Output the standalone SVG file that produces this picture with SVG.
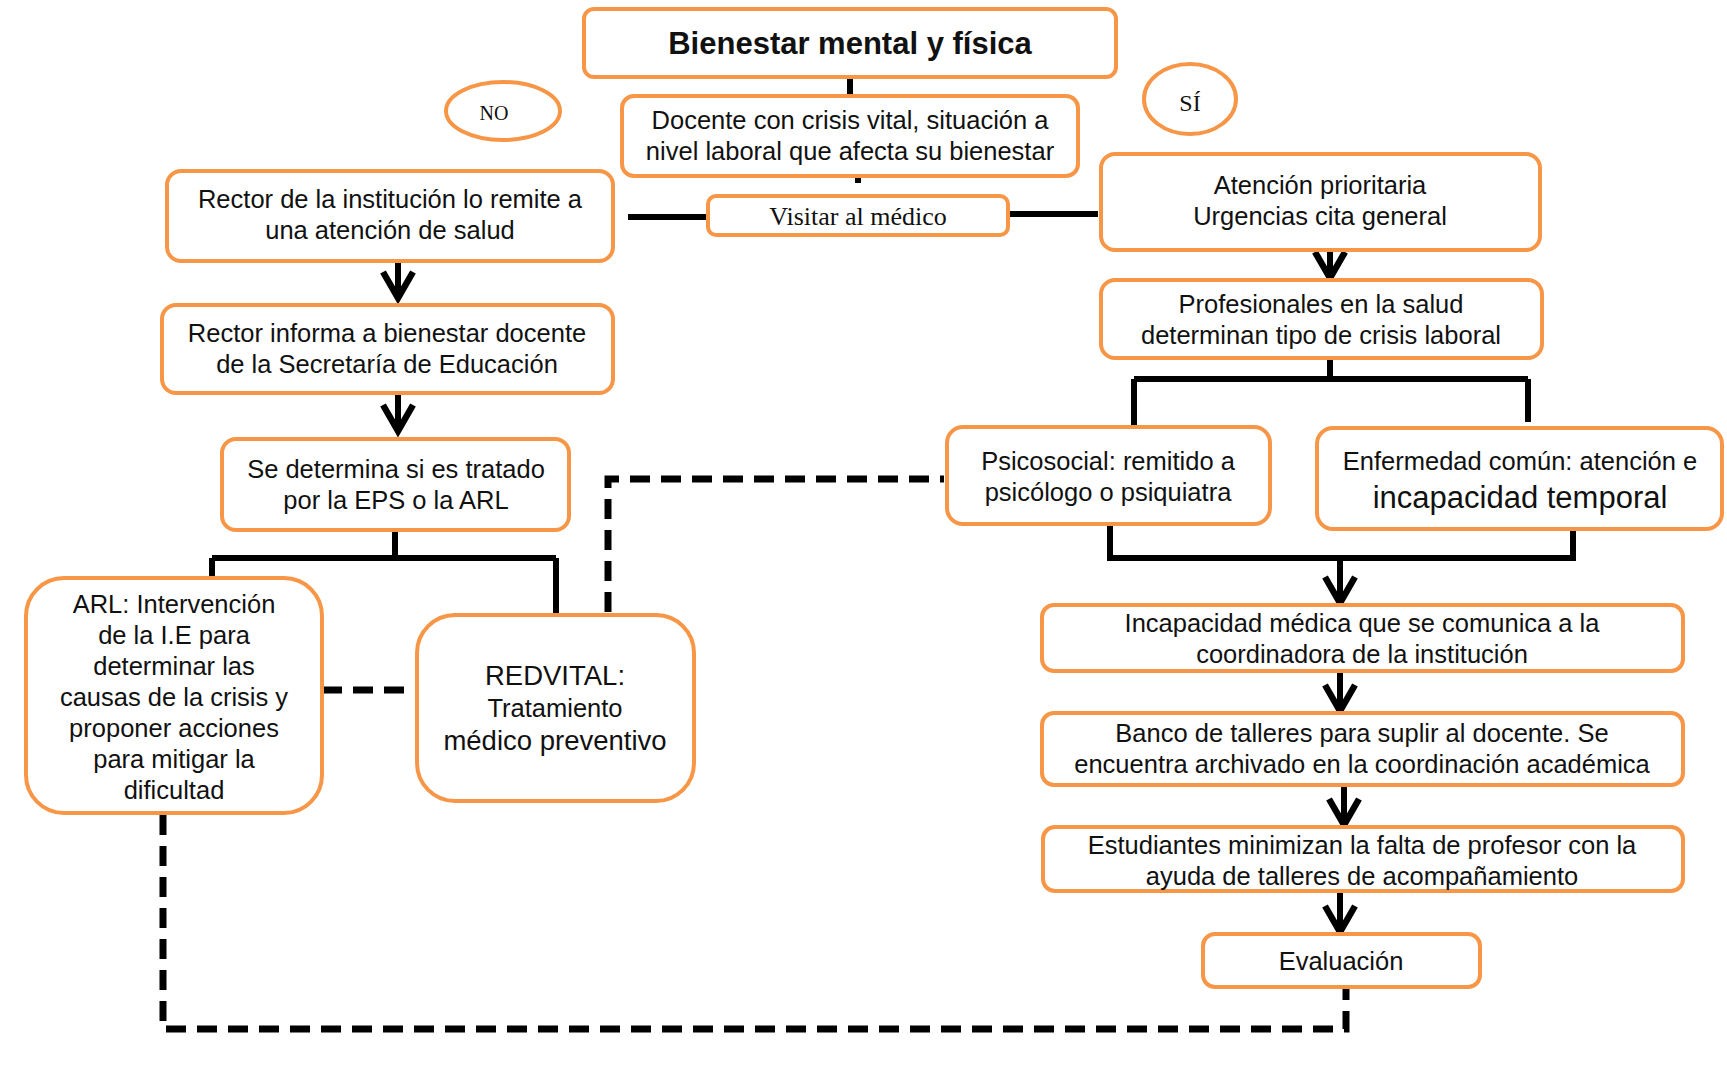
<svg xmlns="http://www.w3.org/2000/svg" width="1727" height="1067" viewBox="0 0 1727 1067">
<style>
.box{fill:#fff;stroke:#F79646;stroke-width:4}
.t{font-family:"Liberation Sans",Arial,sans-serif;font-size:25.5px;fill:#111;text-anchor:middle}
.s{font-family:"Liberation Serif","Times New Roman",serif;fill:#111;text-anchor:middle}
.ln{fill:none;stroke:#000;stroke-width:6}
.dash{fill:none;stroke:#000;stroke-width:7;stroke-dasharray:20 11}
</style>
<defs>
<marker id="v" markerUnits="userSpaceOnUse" markerWidth="40" markerHeight="40" refX="0" refY="0" orient="auto" overflow="visible">
<path d="M -26 -15 L 0 0 L -26 15" fill="none" stroke="#000" stroke-width="6.5" stroke-linejoin="miter"/>
</marker>
</defs>
<rect width="1727" height="1067" fill="#fff"/>

<g id="connectors">
<path class="ln" d="M850 77 V96"/>
<path class="ln" d="M858 173 V183"/>
<path class="ln" d="M628 217 H708"/>
<path class="ln" d="M1008 214 H1098"/>
<path class="ln" d="M398 261 V298" marker-end="url(#v)"/>
<path class="ln" d="M398 393 V431" marker-end="url(#v)"/>
<path class="ln" d="M395 530 V558 M212 558 H556 M212 558 V578 M556 558 V615"/>
<path class="ln" d="M1330 250 V278" marker-end="url(#v)"/>
<path class="ln" d="M1330 358 V379 M1134 379 H1528 M1134 379 V430 M1528 379 V422"/>
<path class="ln" d="M1110 524 V558 H1573 V529"/>
<path class="ln" d="M1340 558 V603" marker-end="url(#v)"/>
<path class="ln" d="M1340 671 V711" marker-end="url(#v)"/>
<path class="ln" d="M1344 785 V825" marker-end="url(#v)"/>
<path class="ln" d="M1340 891 V932" marker-end="url(#v)"/>
<path class="dash" d="M608 612 V479 H944"/>
<path class="dash" d="M322 690 H410"/>
<path class="dash" d="M163 815 V1029 H1346 V987"/>
</g>

<g id="title">
<rect class="box" x="584" y="9" width="532" height="68" rx="10"/>
<text class="t" x="850" y="54" style="font-weight:bold;font-size:31px">Bienestar mental y física</text>
</g>

<g id="no">
<ellipse class="box" cx="503" cy="111" rx="57" ry="29"/>
<text class="s" x="494" y="120" style="font-size:20px">NO</text>
</g>

<g id="si">
<ellipse class="box" cx="1190" cy="99" rx="46" ry="35"/>
<text class="s" x="1190" y="111" style="font-size:24px">SÍ</text>
</g>

<g id="docente">
<rect class="box" x="622" y="96" width="456" height="80" rx="12"/>
<text class="t" x="850" y="129">Docente con crisis vital, situación a</text>
<text class="t" x="850" y="160">nivel laboral que afecta su bienestar</text>
</g>

<g id="visitar">
<rect class="box" x="708" y="196" width="300" height="39" rx="8"/>
<text class="s" x="858" y="225" style="font-size:26px">Visitar al médico</text>
</g>

<g id="rector1">
<rect class="box" x="167" y="171" width="446" height="90" rx="14"/>
<text class="t" x="390" y="208">Rector de la institución lo remite a</text>
<text class="t" x="390" y="239">una atención de salud</text>
</g>

<g id="rector2">
<rect class="box" x="162" y="305" width="451" height="88" rx="14"/>
<text class="t" x="387" y="342">Rector informa a bienestar docente</text>
<text class="t" x="387" y="373">de la Secretaría de Educación</text>
</g>

<g id="determina">
<rect class="box" x="222" y="439" width="347" height="91" rx="14"/>
<text class="t" x="396" y="478">Se determina si es tratado</text>
<text class="t" x="396" y="509">por la EPS o la ARL</text>
</g>

<g id="arl">
<rect class="box" x="26" y="578" width="296" height="235" rx="38"/>
<text class="t" x="174" y="613">ARL: Intervención</text>
<text class="t" x="174" y="644">de la I.E para</text>
<text class="t" x="174" y="675">determinar las</text>
<text class="t" x="174" y="706">causas de la crisis y</text>
<text class="t" x="174" y="737">proponer acciones</text>
<text class="t" x="174" y="768">para mitigar la</text>
<text class="t" x="174" y="799">dificultad</text>
</g>

<g id="redvital">
<rect class="box" x="417" y="615" width="277" height="186" rx="38"/>
<text class="t" x="555" y="685" style="font-size:27.5px">REDVITAL:</text>
<text class="t" x="555" y="717">Tratamiento</text>
<text class="t" x="555" y="750" style="font-size:27.5px">médico preventivo</text>
</g>

<g id="atencion">
<rect class="box" x="1101" y="154" width="439" height="96" rx="14"/>
<text class="t" x="1320" y="194">Atención prioritaria</text>
<text class="t" x="1320" y="225">Urgencias cita general</text>
</g>

<g id="profesionales">
<rect class="box" x="1101" y="280" width="441" height="78" rx="14"/>
<text class="t" x="1321" y="313">Profesionales en la salud</text>
<text class="t" x="1321" y="344">determinan tipo de crisis laboral</text>
</g>

<g id="psicosocial">
<rect class="box" x="947" y="427" width="323" height="97" rx="16"/>
<text class="t" x="1108" y="470">Psicosocial: remitido a</text>
<text class="t" x="1108" y="501">psicólogo o psiquiatra</text>
</g>

<g id="enfermedad">
<rect class="box" x="1317" y="428" width="405" height="101" rx="16"/>
<text class="t" x="1520" y="470">Enfermedad común: atención e</text>
<text class="t" x="1520" y="508" style="font-size:31px">incapacidad temporal</text>
</g>

<g id="incapacidad">
<rect class="box" x="1042" y="605" width="641" height="66" rx="12"/>
<text class="t" x="1362" y="632">Incapacidad médica que se comunica a la</text>
<text class="t" x="1362" y="663">coordinadora de la institución</text>
</g>

<g id="banco">
<rect class="box" x="1042" y="713" width="641" height="72" rx="12"/>
<text class="t" x="1362" y="742">Banco de talleres para suplir al docente. Se</text>
<text class="t" x="1362" y="773">encuentra archivado en la coordinación académica</text>
</g>

<g id="estudiantes">
<rect class="box" x="1043" y="827" width="640" height="64" rx="12"/>
<text class="t" x="1362" y="854">Estudiantes minimizan la falta de profesor con la</text>
<text class="t" x="1362" y="885">ayuda de talleres de acompañamiento</text>
</g>

<g id="evaluacion">
<rect class="box" x="1203" y="934" width="277" height="53" rx="12"/>
<text class="t" x="1341" y="970">Evaluación</text>
</g>
</svg>
